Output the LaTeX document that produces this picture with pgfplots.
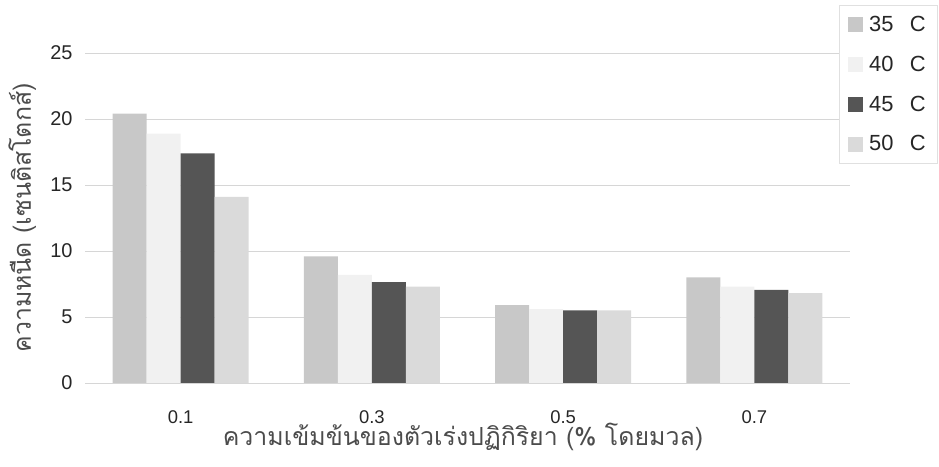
\documentclass[border=0pt]{standalone}
\usepackage{pgfplots}
\pgfplotsset{compat=1.18}
\usepackage{fontspec}
\setmainfont{Liberation Sans}
\newfontfamily\thaifont[Script=Thai]{Loma}
\definecolor{cA}{RGB}{200,200,200}
\definecolor{cB}{RGB}{241,241,241}
\definecolor{cC}{RGB}{85,85,85}
\definecolor{cD}{RGB}{218,218,218}
\pgfplotsset{sqlegend/.style={legend image code/.code={\fill[##1] (0bp,-7.5bp) rectangle (15bp,7.5bp); \path (19bp,0bp);}}}
\begin{document}
\begin{tikzpicture}
\path[use as bounding box] (0bp,0bp) rectangle (939bp,467bp);
\begin{axis}[
  at={(85bp,84bp)}, anchor=south west,
  scale only axis, width=765bp, height=330bp,
  ybar=0pt, bar width=0.178,
  xmin=-0.5, xmax=3.5, ymin=0, ymax=25,
  xtick={0,1,2,3}, xticklabels={0.1,0.3,0.5,0.7},
  ytick={0,5,10,15,20,25},
  axis line style={draw=none},
  major tick length=0pt,
  ymajorgrids, grid style={draw=black!16, line width=0.9bp},
  /pgf/number format/assume math mode=true,
  x tick label style={yshift=-24bp, font=\fontsize{18.5}{21}\selectfont, text=black!85},
  y tick label style={xshift=-9bp, font=\fontsize{20}{23}\selectfont, text=black!85},
  xlabel={\thaifont ความเข้มข้นของตัวเร่งปฏิกิริยา (\% โดยมวล)},
  ylabel={\thaifont ความหนืด (เซนติสโตกส์)},
  label style={font=\fontsize{25}{28}\selectfont, text=black!70},
  xlabel style={at={(axis description cs:0.494,-0.164)}, anchor=center},
  ylabel style={at={(axis description cs:-0.082,0.5)}, anchor=center},
  legend style={at={(axis description cs:1.1137,1.145)}, anchor=north east,
    draw=black!12, fill=white, font=\fontsize{22}{25}\selectfont, text=black!85,
    row sep=19bp, inner xsep=9bp, inner ysep=9bp, cells={anchor=west}},
  legend cell align=left,
]
\addplot[fill=cA, draw=none, sqlegend] coordinates {(0,20.4) (1,9.6) (2,5.9) (3,8.0)};
\addplot[fill=cB, draw=none, sqlegend] coordinates {(0,18.9) (1,8.2) (2,5.6) (3,7.3)};
\addplot[fill=cC, draw=none, sqlegend] coordinates {(0,17.4) (1,7.65) (2,5.5) (3,7.05)};
\addplot[fill=cD, draw=none, sqlegend] coordinates {(0,14.1) (1,7.3) (2,5.5) (3,6.8)};
\legend{35\hspace{0.75em}C, 40\hspace{0.75em}C, 45\hspace{0.75em}C, 50\hspace{0.75em}C}
\end{axis}
\end{tikzpicture}
\end{document}
